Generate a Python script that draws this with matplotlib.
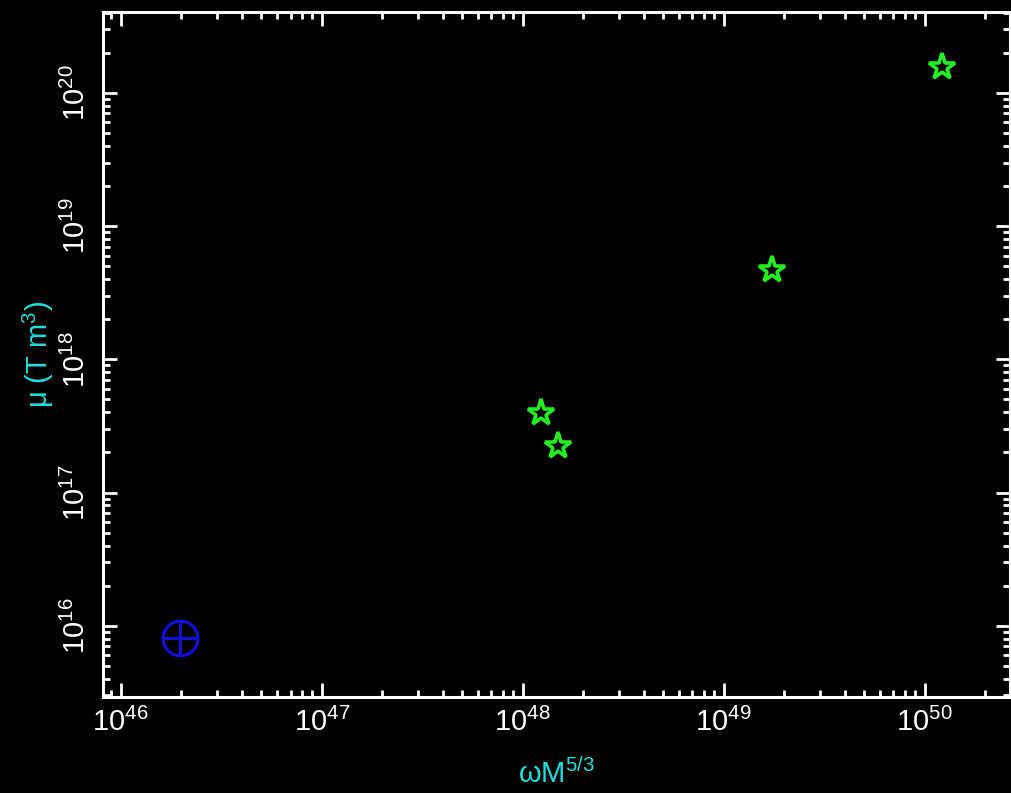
import matplotlib
matplotlib.use("Agg")
import matplotlib.pyplot as plt
from matplotlib.ticker import LogLocator, NullFormatter

# data
STAR_X = [1.24e48, 1.50e48, 1.74e49, 1.22e50]
STAR_Y = [3.97e17, 2.24e17, 4.68e18, 1.57e20]
EARTH_X = [1.98e46]
EARTH_Y = [8.1e15]

CYAN = "#22dede"
GREEN = "#22ee22"
BLUE = "#1010dd"

plt.rcParams["font.family"] = ["Liberation Sans", "DejaVu Sans"]
plt.rcParams["mathtext.default"] = "regular"

fig = plt.figure(figsize=(10.11, 7.93), dpi=100, facecolor="black")
ax = fig.add_axes([0.102, 0.121, 0.897, 0.864], facecolor="black")

ax.set_xscale("log")
ax.set_yscale("log")
ax.set_xlim(8.18e45, 2.66e50)
ax.set_ylim(2.92e15, 4.05e20)

ax.plot(STAR_X, STAR_Y, ls="none", marker="*", ms=20, mfc="none",
        mec=GREEN, mew=2.6)
ax.plot(EARTH_X, EARTH_Y, ls="none", marker="o", ms=25, mfc="none",
        mec=BLUE, mew=2.2)
ax.plot(EARTH_X, EARTH_Y, ls="none", marker="+", ms=25, mec=BLUE, mew=2.2)

for s in ax.spines.values():
    s.set_color("white")
    s.set_linewidth(2.2)

for axis in (ax.xaxis, ax.yaxis):
    axis.set_major_locator(LogLocator(base=10, numticks=20))
    axis.set_minor_locator(LogLocator(base=10, subs=range(2, 10), numticks=50))
    axis.set_minor_formatter(NullFormatter())

ax.tick_params(which="both", direction="in", colors="white", top=True,
               right=True, labelsize=21)
ax.tick_params(which="major", length=10, width=2)
ax.tick_params(which="minor", length=5, width=2)
ax.tick_params(axis="x", pad=8)
ax.tick_params(axis="y", pad=9)
for lab in ax.get_yticklabels():
    lab.set_rotation(90)
    lab.set_va("center")

ax.set_xlabel(r"$\omega M^{5/3}$", color=CYAN, fontsize=21, labelpad=15)
ax.set_ylabel(r"$\mu$ (T m$^3$)", color=CYAN, fontsize=21, labelpad=4)

fig.savefig("out.png", dpi=100, facecolor="black")
